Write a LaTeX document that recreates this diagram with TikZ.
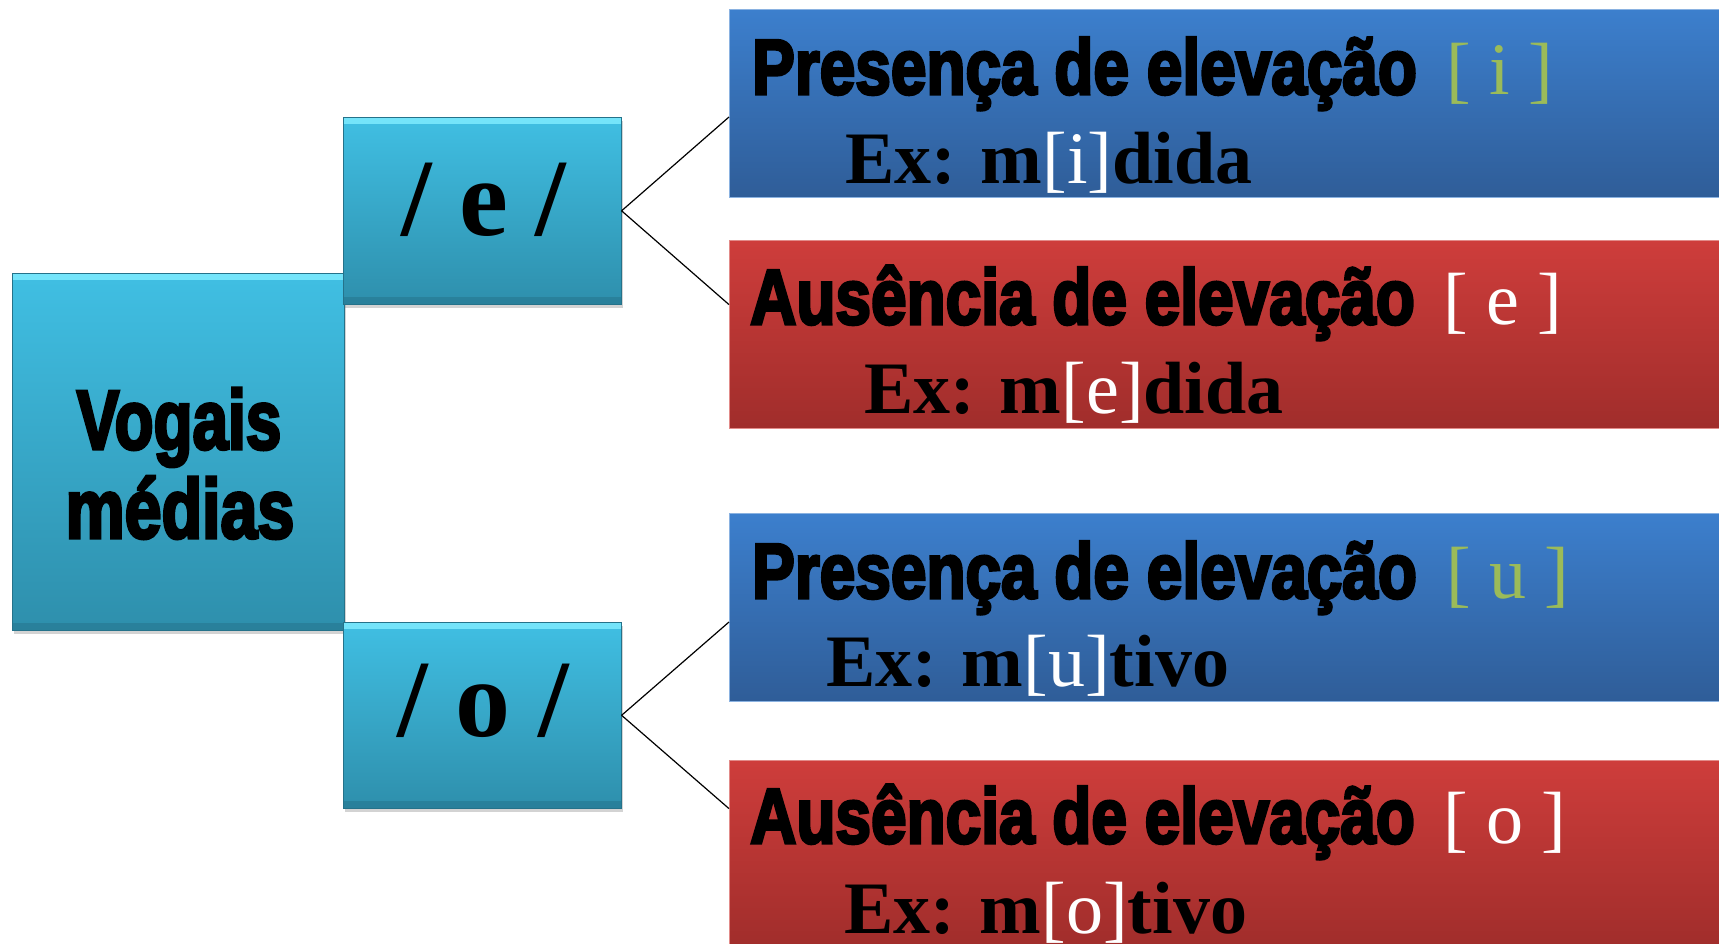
\documentclass[tikz,border=0pt]{standalone}
\usepackage{fontspec}
\setmainfont{Liberation Serif}
\newfontfamily\heavyfont[FakeBold=4]{Liberation Sans Bold}
\usetikzlibrary{calc}
\usetikzlibrary{shadows}

\definecolor{cyantop}{HTML}{40BFE3}
\definecolor{cyanbot}{HTML}{2E8FAC}
\definecolor{cyanhi}{HTML}{74E4FA}
\definecolor{bluetop}{HTML}{3C7FCD}
\definecolor{bluebot}{HTML}{2F5D98}
\definecolor{redtop}{HTML}{CE3D3B}
\definecolor{redbot}{HTML}{A02D2B}
\definecolor{leafgreen}{HTML}{9BBB59}

\newcommand{\cond}[2]{\scalebox{#1}[1]{#2}}

\tikzset{
  vowelbox/.style={anchor=north west, inner sep=0pt, draw=cyanbot!80!black, line width=0.6pt,
    top color=cyantop, bottom color=cyanbot,
    drop shadow={opacity=0.35, shadow xshift=2pt, shadow yshift=-4pt},
    path picture={
      \fill[cyanhi] (path picture bounding box.north west) rectangle ([yshift=-7pt]path picture bounding box.north east);
      \fill[cyanbot!80!black, opacity=0.5] (path picture bounding box.south west) rectangle ([yshift=7pt]path picture bounding box.south east);
    }},
  elevbox/.style={anchor=north west, inner sep=0pt, minimum width=1000pt, minimum height=188pt,
    draw=bluetop!60!white, line width=1pt, top color=bluetop, bottom color=bluebot},
  noelevbox/.style={anchor=north west, inner sep=0pt, minimum width=1000pt, minimum height=188pt,
    draw=redtop!60!white, line width=1pt, top color=redtop, bottom color=redbot},
  headtext/.style={anchor=base west, inner sep=0pt, font=\heavyfont\fontsize{78}{78}\selectfont},
  extext/.style={anchor=base west, inner sep=0pt, font=\fontsize{74}{74}\selectfont\bfseries},
  vowtext/.style={anchor=base, inner sep=0pt, font=\fontsize{110}{110}\selectfont\bfseries},
  maintext/.style={anchor=base, inner sep=0pt, font=\heavyfont\fontsize{84}{84}\selectfont},
  branch/.style={line width=1.2pt, black}
}

\begin{document}
\begin{tikzpicture}[x=1pt, y=-1pt]
  \useasboundingbox (0,0) rectangle (1719,943);

  % vowel boxes
  \node[vowelbox, minimum width=332pt, minimum height=357pt] (vogais) at (12,273) {};
  \node[vowelbox, minimum width=278pt, minimum height=187pt] (ve) at (343,117) {};
  \node[vowelbox, minimum width=278pt, minimum height=186pt] (vo) at (343,622) {};

  \node[maintext] (vogais1) at (179,449) {\cond{0.76}{Vogais}};
  \node[maintext] (vogais2) at (180,538) {\cond{0.79}{médias}};
  \node[vowtext] (vetext) at (484,235) {/ e /};
  \node[vowtext] (votext) at (483,736) {/ o /};

  % result boxes
  \node[elevbox] (elevI) at (729,9) {};
  \node[noelevbox] (noelevE) at (729,240) {};
  \node[elevbox] (elevU) at (729,513) {};
  \node[noelevbox] (noelevO) at (729,760) {};

  \node[headtext] (elevIhead) at (752,94) {\cond{0.82}{Presença de elevação}\hspace{29pt}{\rmfamily\fontsize{74}{74}\selectfont\color{leafgreen}[ i ]}};
  \node[extext] (elevIex) at (845,183) {Ex: m{\mdseries\color{white}[i]}dida};
  \node[headtext] (noelevEhead) at (750,324) {\cond{0.82}{Ausência de elevação}\hspace{28pt}{\rmfamily\fontsize{74}{74}\selectfont\color{white}[ e ]}};
  \node[extext] (noelevEex) at (864,413) {Ex: m{\mdseries\color{white}[e]}dida};
  \node[headtext] (elevUhead) at (752,598) {\cond{0.82}{Presença de elevação}\hspace{29pt}{\rmfamily\fontsize{74}{74}\selectfont\color{leafgreen}[ u ]}};
  \node[extext] (elevUex) at (826,686) {Ex: m{\mdseries\color{white}[u]}tivo};
  \node[headtext] (noelevOhead) at (750,843) {\cond{0.82}{Ausência de elevação}\hspace{28pt}{\rmfamily\fontsize{74}{74}\selectfont\color{white}[ o ]}};
  \node[extext] (noelevOex) at (844,933) {Ex: m{\mdseries\color{white}[o]}tivo};

  % branches
  \draw[branch] (ve.east) -- (ve.north -| elevI.west);
  \draw[branch] (ve.east) -- (ve.south -| noelevE.west);
  \draw[branch] (vo.east) -- (vo.north -| elevU.west);
  \draw[branch] (vo.east) -- (vo.south -| noelevO.west);
\end{tikzpicture}
\end{document}
